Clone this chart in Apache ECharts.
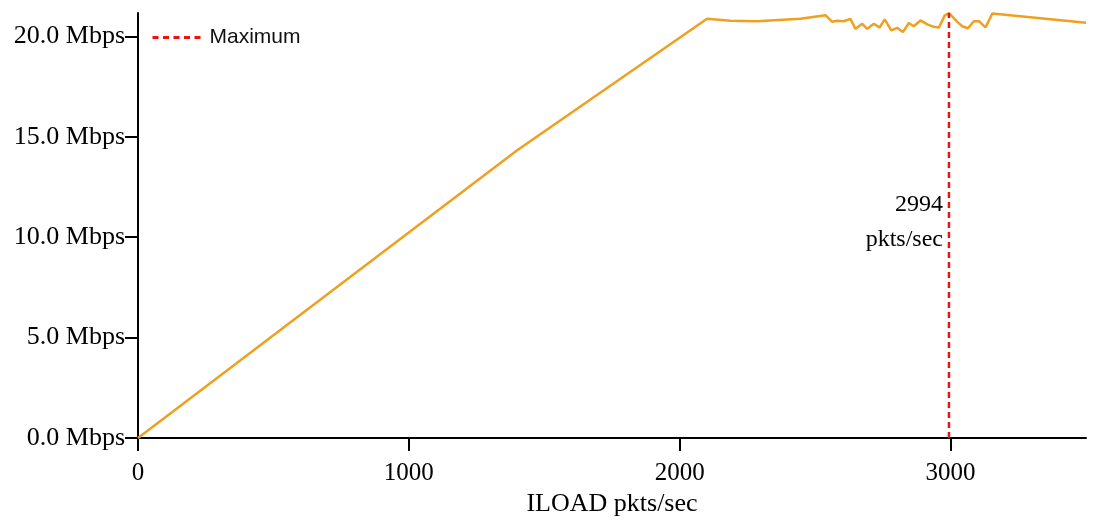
<!DOCTYPE html>
<html>
<head>
<meta charset="utf-8">
<script src="https://cdn.jsdelivr.net/npm/echarts@6/dist/echarts.min.js"></script>
<style>html,body{margin:0;padding:0;background:#fff}#c{width:1097px;height:527px}</style>
</head>
<body>
<div id="c"></div>
<script>
const ILOAD = [0, 1400, 2101, 2187, 2286, 2446, 2538, 2563, 2581, 2606, 2630, 2649, 2674, 2692, 2717, 2738, 2757, 2781, 2803, 2824, 2846, 2864, 2889, 2914, 2938, 2957, 2978, 2994, 3025, 3043, 3064, 3086, 3105, 3129, 3154, 3500];
const THROUGHPUT = [0, 14.33, 20.88, 20.78, 20.76, 20.88, 21.06, 20.73, 20.78, 20.76, 20.88, 20.38, 20.63, 20.38, 20.63, 20.45, 20.85, 20.30, 20.43, 20.22, 20.67, 20.51, 20.80, 20.60, 20.48, 20.45, 21.04, 21.17, 20.73, 20.51, 20.41, 20.76, 20.76, 20.45, 21.14, 20.68];
const MAX_ILOAD = 2994;
const X_TICKS = [0, 1000, 2000, 3000];
const Y_TICKS = [0, 5, 10, 15, 20];
const X_MAX = 3500;
const Y_MAX = 21.17;

const serif = 'Liberation Serif';
const chart = echarts.init(document.getElementById('c'), null, {renderer: 'canvas'});
chart.setOption({
  animation: false,
  backgroundColor: '#fff',
  grid: {left: 138, right: 11, top: 13, bottom: 89, containLabel: false},
  legend: {
    left: 146, top: 22,
    itemWidth: 52, itemHeight: 14, itemGap: 10,
    itemStyle: {color: 'rgba(0,0,0,0)', borderColor: 'rgba(0,0,0,0)', borderWidth: 0, opacity: 0},
    lineStyle: {width: 3, type: [6, 4.5], color: '#ee1111'},
    textStyle: {fontFamily: 'Liberation Sans', fontSize: 21, color: '#111'},
    data: ['Maximum']
  },
  xAxis: {
    type: 'value', min: 0, max: X_MAX, interval: 1000,
    name: 'ILOAD pkts/sec', nameLocation: 'middle', nameGap: 52,
    nameTextStyle: {fontFamily: serif, fontSize: 26, color: '#000'},
    axisLine: {show: true, onZero: false, lineStyle: {color: '#000', width: 2}},
    axisTick: {show: true, length: 13, lineStyle: {color: '#000', width: 2}, customValues: X_TICKS},
    axisLabel: {margin: 23, fontFamily: serif, fontSize: 25, color: '#000', customValues: X_TICKS,
      formatter: v => String(v)},
    splitLine: {show: false}
  },
  yAxis: {
    type: 'value', min: 0, max: Y_MAX, interval: 5,
    axisLine: {show: true, onZero: false, lineStyle: {color: '#000', width: 2}},
    axisTick: {show: true, length: 13, lineStyle: {color: '#000', width: 2}, customValues: Y_TICKS},
    axisLabel: {margin: 13, fontFamily: serif, fontSize: 26, color: '#000', customValues: Y_TICKS,
      formatter: v => v.toFixed(1) + ' Mbps'},
    splitLine: {show: false}
  },
  series: [
    {
      name: 'Throughput', type: 'line', showSymbol: false, symbol: 'none',
      data: ILOAD.map((x, i) => [x, THROUGHPUT[i]]),
      lineStyle: {color: '#efa020', width: 2.5},
      itemStyle: {color: '#efa020'},
      z: 3
    },
    {
      name: 'Maximum', type: 'line', showSymbol: false, symbol: 'none',
      data: [[MAX_ILOAD, 0], [MAX_ILOAD, Y_MAX]],
      lineStyle: {color: '#ee1111', width: 2.5, type: [6, 4]},
      itemStyle: {color: '#ee1111'},
      z: 4,
      markPoint: {
        symbol: 'circle', symbolSize: 0,
        data: [{coord: [MAX_ILOAD, 10.75], value: MAX_ILOAD}],
        label: {
          show: true, position: 'left', distance: 6,
          formatter: MAX_ILOAD + '\npkts/sec',
          fontFamily: serif, fontSize: 24, lineHeight: 35, color: '#000', align: 'right'
        }
      }
    }
  ]
});
</script>
</body>
</html>
